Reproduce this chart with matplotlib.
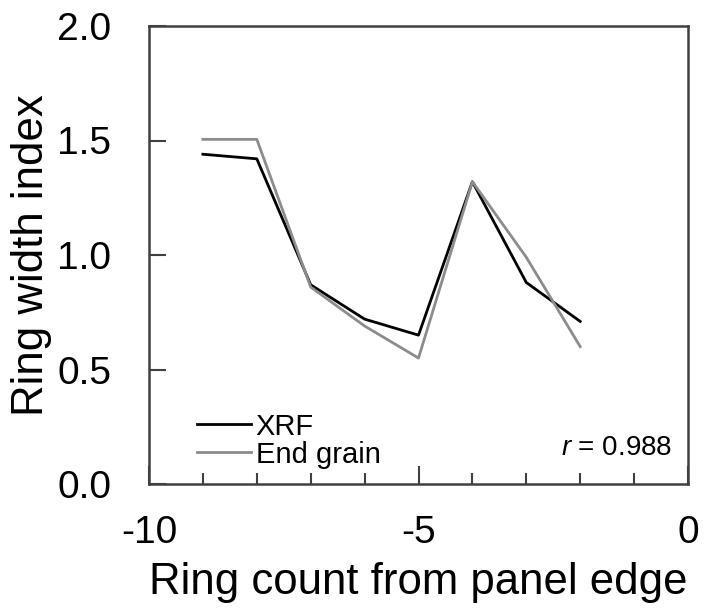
import numpy as np
import matplotlib
matplotlib.use('Agg')
import matplotlib.pyplot as plt
from matplotlib.ticker import MultipleLocator, FormatStrFormatter

plt.rcParams['font.family'] = ['Liberation Sans', 'DejaVu Sans']
plt.rcParams['axes.unicode_minus'] = False
plt.rcParams['mathtext.fontset'] = 'custom'
plt.rcParams['mathtext.it'] = 'Liberation Sans:italic'

ring = [-9, -8, -7, -6, -5, -4, -3, -2]
xrf = [1.44, 1.42, 0.87, 0.72, 0.65, 1.32, 0.88, 0.71]
end_grain = [1.505, 1.505, 0.86, 0.69, 0.55, 1.32, 0.99, 0.60]
r_value = 0.988

fig = plt.figure(figsize=(7.08, 6.13), dpi=100)
ax = fig.add_axes([149 / 708, 1 - 484 / 613, 539 / 708, 458 / 613])

ax.plot(ring, xrf, color='black', lw=2, label='XRF')
ax.plot(ring, end_grain, color='#8c8c8c', lw=2, label='End grain')

ax.set_xlim(-10, 0)
ax.set_ylim(0, 2)
ax.xaxis.set_major_locator(MultipleLocator(5))
ax.xaxis.set_minor_locator(MultipleLocator(1))
ax.yaxis.set_major_locator(MultipleLocator(0.5))
ax.yaxis.set_major_formatter(FormatStrFormatter('%.1f'))
ax.tick_params(axis='x', which='major', direction='in', length=13, width=1.5,
               color='#404040', labelsize=28, pad=22)
ax.tick_params(axis='x', which='minor', direction='in', length=8, width=1.5, color='#404040')
ax.tick_params(axis='y', direction='in', length=12, width=1.5, color='#404040',
               labelsize=28, pad=27)
for s in ax.spines.values():
    s.set_linewidth(1.8)
    s.set_color('#404040')

ax.set_xlabel('Ring count from panel edge', fontsize=31.5, labelpad=8)
ax.set_ylabel('Ring width index', fontsize=31.5, labelpad=4)

ax.legend(loc='lower left', frameon=False, fontsize=21, handlelength=1.85,
          handletextpad=0.15, labelspacing=0.0, borderaxespad=0.0,
          bbox_to_anchor=(0.068, 0.008))
ax.text(0.97, 0.078, r'$\it{r}$ = ' + f'{r_value:.3f}', transform=ax.transAxes,
        ha='right', va='center', fontsize=20)

fig.savefig('out.png', dpi=100)
